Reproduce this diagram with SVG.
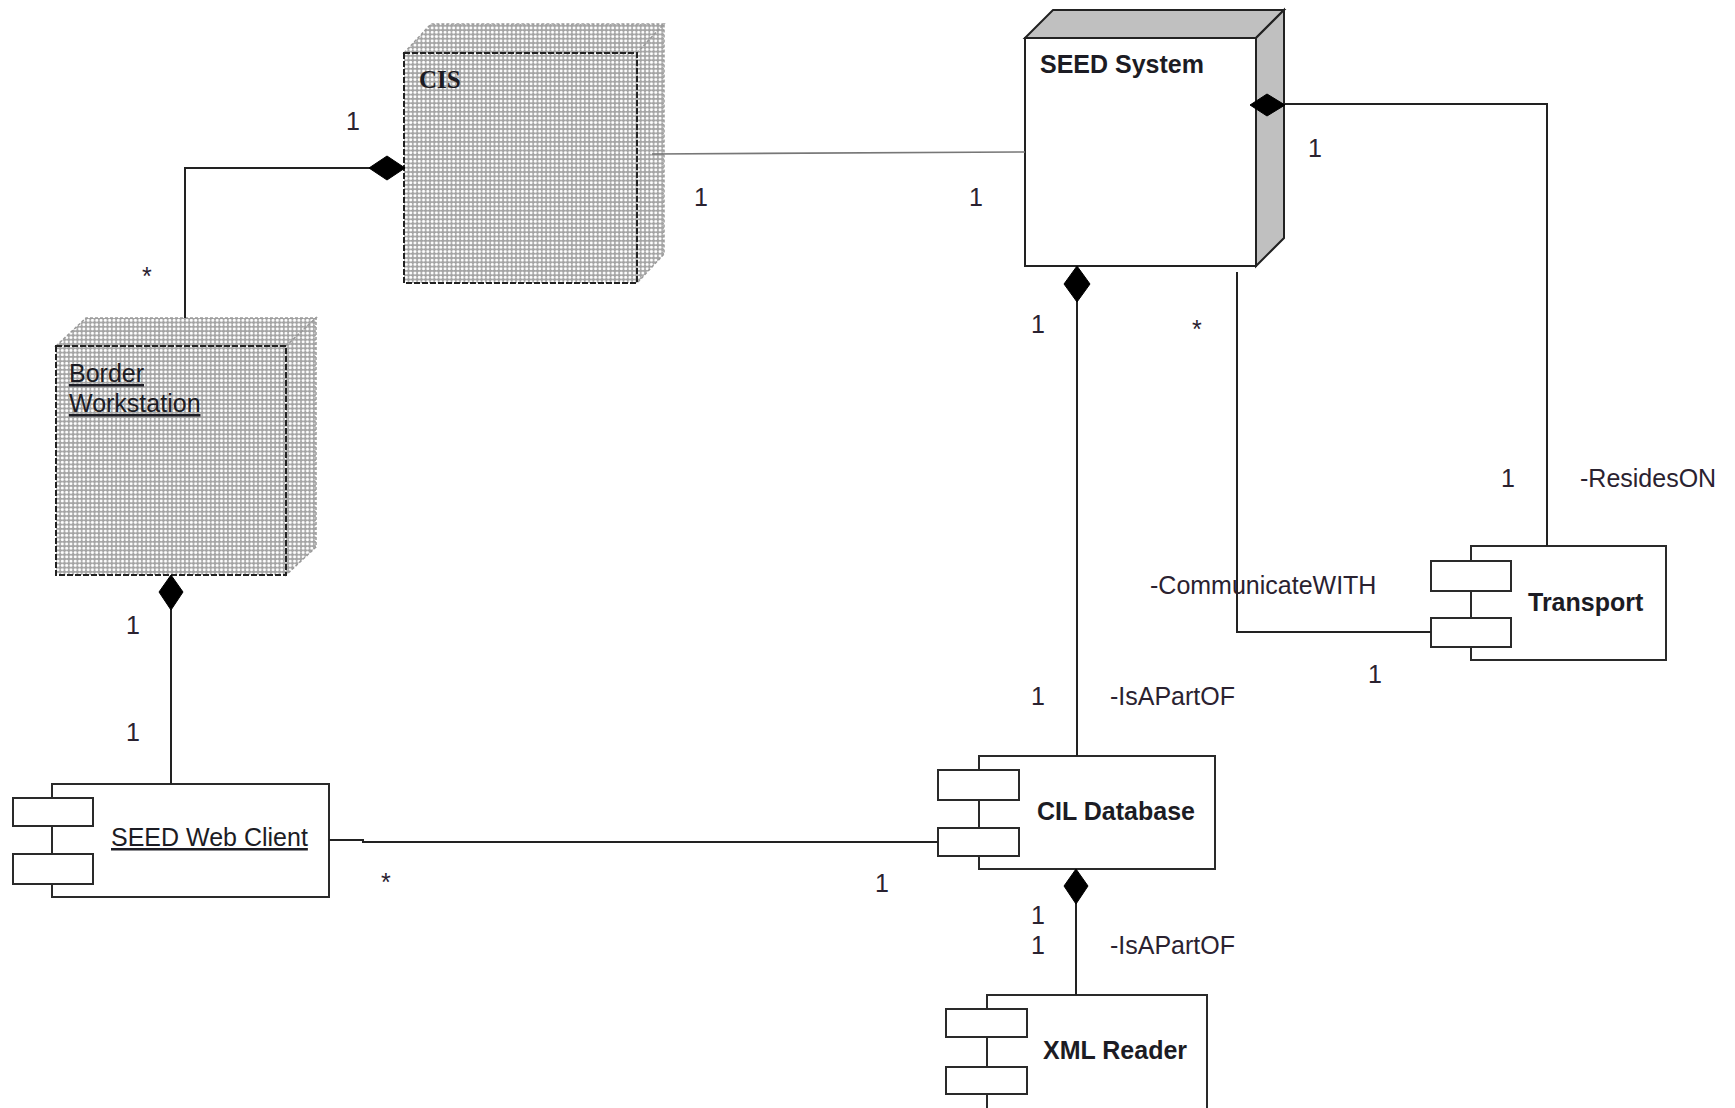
<svg xmlns="http://www.w3.org/2000/svg" width="1735" height="1108" viewBox="0 0 1735 1108">
<defs>
<pattern id="dots" width="4.3" height="4.3" patternUnits="userSpaceOnUse">
<rect width="4.3" height="4.3" fill="#a4a4a4"/>
<circle cx="2.15" cy="2.15" r="1.55" fill="#ffffff"/>
</pattern>
</defs>
<style>
.t{font-family:"Liberation Sans",Arial,sans-serif;font-size:25px;fill:#1c1c24}
.b{font-weight:bold}
.lbl{font-family:"Liberation Sans",Arial,sans-serif;font-size:25px;fill:#2a2230}
.cl{fill:none;stroke:#222;stroke-width:2}
.cmp{fill:#fff;stroke:#2a2a2a;stroke-width:2}
.dia{fill:#000;stroke:#000;stroke-width:1}
.pat{fill:url(#dots);stroke:#9a9a9a;stroke-width:1.5;stroke-dasharray:3 2}
.front{fill:url(#dots);stroke:#222;stroke-width:2;stroke-dasharray:6 2}
.solid{fill:#fff;stroke:#222;stroke-width:2}
.side{fill:#c0c0c0;stroke:#222;stroke-width:2}
</style>
<rect width="1735" height="1108" fill="#fff"/>

<g id="cis">
<polygon class="pat" points="404,53 431,24 664,24 637,53"/>
<polygon class="pat" points="637,53 664,24 664,254 637,283"/>
<rect class="front" x="404" y="53" width="233" height="230"/>
<text x="419" y="88" font-family="'Liberation Serif','Times New Roman',serif" font-weight="bold" font-size="25" fill="#1c1c24">CIS</text>
</g>

<g id="border-workstation">
<polygon class="pat" points="56,346 86,318 316,318 286,346"/>
<polygon class="pat" points="286,346 316,318 316,547 286,575"/>
<rect class="front" x="56" y="346" width="230" height="229"/>
<text class="t" x="69" y="382" text-decoration="underline">Border</text>
<text class="t" x="69" y="412" text-decoration="underline">Workstation</text>
</g>

<g id="seed-system">
<polygon class="side" points="1025,38 1053,10 1284,10 1256,38"/>
<polygon class="side" points="1256,38 1284,10 1284,238 1256,266"/>
<rect class="solid" x="1025" y="38" width="231" height="228"/>
<text class="t b" x="1040" y="73">SEED System</text>
</g>

<g id="seed-web-client">
<rect class="cmp" x="52" y="784" width="277" height="113"/>
<rect class="cmp" x="13" y="798" width="80" height="28"/>
<rect class="cmp" x="13" y="854" width="80" height="30"/>
<text class="t" x="111" y="846" text-decoration="underline">SEED Web Client</text>
</g>

<g id="cil-database">
<rect class="cmp" x="979" y="756" width="236" height="113"/>
<rect class="cmp" x="938" y="770" width="81" height="30"/>
<rect class="cmp" x="938" y="828" width="81" height="28"/>
<text class="t b" x="1037" y="820">CIL Database</text>
</g>

<g id="xml-reader">
<rect class="cmp" x="987" y="995" width="220" height="130"/>
<rect class="cmp" x="946" y="1009" width="81" height="28"/>
<rect class="cmp" x="946" y="1067" width="81" height="27"/>
<text class="t b" x="1043" y="1059">XML Reader</text>
</g>

<g id="transport">
<rect class="cmp" x="1471" y="546" width="195" height="114"/>
<rect class="cmp" x="1431" y="561" width="80" height="30"/>
<rect class="cmp" x="1431" y="618" width="80" height="29"/>
<text class="t b" x="1528" y="611">Transport</text>
</g>

<g id="connectors">
<path class="cl" d="M185,318 V168 H372"/>
<polygon class="dia" points="369,168 387,156 405,168 387,180"/>
<path d="M652,154 L1025,152" fill="none" stroke="#777" stroke-width="1.6"/>
<path class="cl" d="M1284,104 H1547 V546"/>
<polygon class="dia" points="1250,105 1267,94 1285,105 1267,116"/>
<path class="cl" d="M1077,300 V756"/>
<polygon class="dia" points="1077,266 1090,284 1077,302 1064,284"/>
<path class="cl" d="M1237,272 V632 H1431"/>
<path class="cl" d="M171,609 V784"/>
<polygon class="dia" points="171,575 183,592 171,610 159,592"/>
<path class="cl" d="M329,840 H363 V842 H938"/>
<path class="cl" d="M1076,903 V995"/>
<polygon class="dia" points="1076,869 1088,886 1076,904 1064,886"/>
</g>

<g id="labels">
<text class="lbl" x="346" y="130">1</text>
<text class="lbl" x="142" y="285">*</text>
<text class="lbl" x="694" y="206">1</text>
<text class="lbl" x="969" y="206">1</text>
<text class="lbl" x="1308" y="157">1</text>
<text class="lbl" x="1031" y="333">1</text>
<text class="lbl" x="1192" y="338">*</text>
<text class="lbl" x="1501" y="487">1</text>
<text class="lbl" x="1580" y="487">-ResidesON</text>
<text class="lbl" x="1150" y="594">-CommunicateWITH</text>
<text class="lbl" x="1368" y="683">1</text>
<text class="lbl" x="1031" y="705">1</text>
<text class="lbl" x="1110" y="705">-IsAPartOF</text>
<text class="lbl" x="126" y="634">1</text>
<text class="lbl" x="126" y="741">1</text>
<text class="lbl" x="381" y="891">*</text>
<text class="lbl" x="875" y="892">1</text>
<text class="lbl" x="1031" y="924">1</text>
<text class="lbl" x="1031" y="954">1</text>
<text class="lbl" x="1110" y="954">-IsAPartOF</text>
</g>
</svg>
